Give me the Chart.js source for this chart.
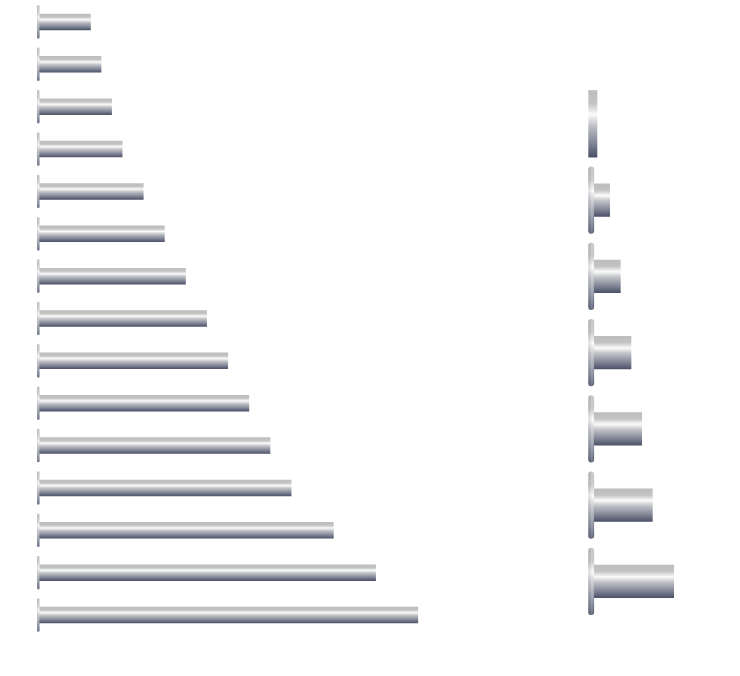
<!DOCTYPE html>
<html><head><meta charset="utf-8">
<script src="https://cdn.jsdelivr.net/npm/chart.js@4.4.1/dist/chart.umd.min.js"></script>
<style>
html,body{margin:0;padding:0;background:#fff;width:740px;height:676px;overflow:hidden;position:relative}
canvas{position:absolute;top:0}
#left{left:0}
#right{left:540px}
</style></head><body>
<canvas id="left" width="480" height="676"></canvas>
<canvas id="right" width="200" height="676"></canvas>
<script>
const leftCategories = ['1','2','3','4','5','6','7','8','9','10','11','12','13','14','15'];
const leftValues = [5, 6, 7, 8, 10, 12, 14, 16, 18, 20, 22, 24, 28, 32, 36];
const rightCategories = ['1','2','3','4','5','6','7'];
const rightValues = [0, 3, 5, 7, 9, 11, 15];

function metalGradient(ctx, top, bottom) {
  const g = ctx.createLinearGradient(0, top, 0, bottom);
  g.addColorStop(0, '#bdbdbd');
  g.addColorStop(0.2, '#c3c3c3');
  g.addColorStop(0.36, '#fbfbfb');
  g.addColorStop(0.52, '#c2c3c8');
  g.addColorStop(0.8, '#7d8293');
  g.addColorStop(1, '#494f66');
  return g;
}

function barFill(barPct) {
  return (c) => {
    const chart = c.chart;
    const y = chart.scales && chart.scales.y;
    if (!y || !chart.chartArea || c.dataIndex === undefined) return '#b0b0b8';
    const step = chart.chartArea.height / chart.data.labels.length;
    const center = y.getPixelForValue(c.dataIndex);
    const th = step * barPct;
    return metalGradient(chart.ctx, center - th / 2, center + th / 2);
  };
}

const capPlugin = {
  id: 'caps',
  afterDatasetsDraw(chart, args, opts) {
    const ctx = chart.ctx;
    const meta = chart.getDatasetMeta(0);
    const values = chart.data.datasets[0].data;
    meta.data.forEach((el, i) => {
      const p = el.getProps(['y', 'base', 'height'], true);
      const ch = p.height * opts.heightRatio;
      const top = p.y - ch / 2;
      const x0 = p.base + opts.offset;
      let w = opts.width, r = opts.width / 2;
      if (values[i] === 0) { w = opts.zeroWidth; r = 0; }
      ctx.save();
      ctx.beginPath();
      if (ctx.roundRect) ctx.roundRect(x0, top, w, ch, r); else ctx.rect(x0, top, w, ch);
      ctx.fillStyle = metalGradient(ctx, top, top + ch);
      ctx.fill();
      if (values[i] !== 0) {
        const hg = ctx.createLinearGradient(x0, 0, x0 + w, 0);
        hg.addColorStop(0, 'rgba(90,95,110,0.18)');
        hg.addColorStop(0.65, 'rgba(255,255,255,0.25)');
        hg.addColorStop(1, 'rgba(255,255,255,0)');
        ctx.fillStyle = hg;
        ctx.fill();
      }
      ctx.restore();
    });
  }
};

function makeChart(id, labels, values, barPct, xMax, padding, capOpts) {
  return new Chart(document.getElementById(id), {
    type: 'bar',
    data: {
      labels: labels,
      datasets: [{
        data: values,
        backgroundColor: barFill(barPct),
        borderWidth: 0,
        barPercentage: barPct,
        categoryPercentage: 1
      }]
    },
    options: {
      indexAxis: 'y',
      responsive: false,
      animation: false,
      layout: { padding: padding },
      scales: {
        x: { display: false, min: 0, max: xMax, grid: { display: false } },
        y: { display: false, grid: { display: false } }
      },
      plugins: {
        legend: { display: false },
        tooltip: { enabled: false },
        caps: capOpts
      }
    },
    plugins: [capPlugin]
  });
}

makeChart('left', leftCategories, leftValues, 0.39, 40,
  { left: 38, right: 19.6, top: 0.8, bottom: 39.8 },
  { heightRatio: 2.03, offset: -0.8, width: 2.3, zeroWidth: 4 });

makeChart('right', rightCategories, rightValues, 0.437, 20,
  { left: 54, right: 39.3, top: 85.7, bottom: 56.5 },
  { heightRatio: 2.02, offset: -5.7, width: 5.8, zeroWidth: 9 });
</script>
</body></html>
